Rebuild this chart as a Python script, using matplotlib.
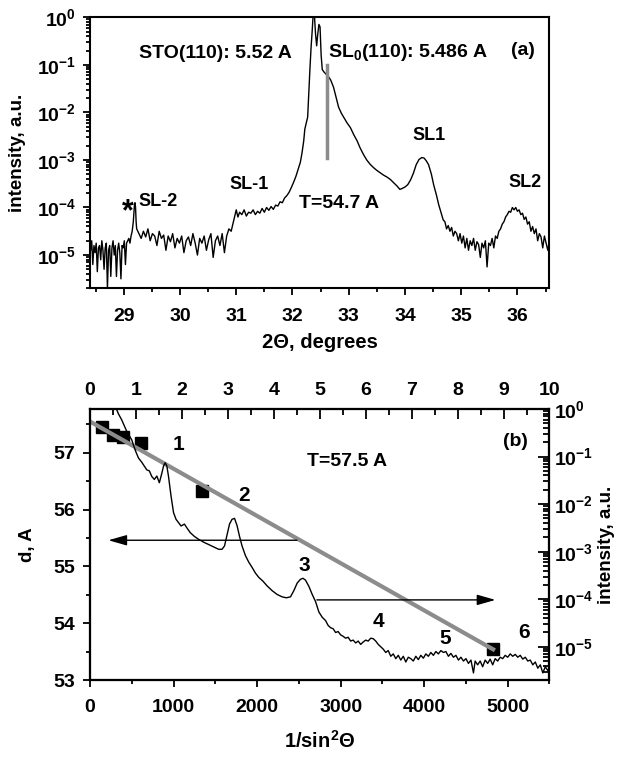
import numpy as np
import matplotlib
matplotlib.use("Agg")
import matplotlib.pyplot as plt
from matplotlib.ticker import MultipleLocator, LogLocator, NullFormatter

plt.rcParams['font.family'] = ['Liberation Sans', 'DejaVu Sans']
plt.rcParams['font.weight'] = 'bold'
plt.rcParams['axes.labelweight'] = 'bold'
plt.rcParams['mathtext.fontset'] = 'custom'
plt.rcParams['mathtext.rm'] = 'Liberation Sans:bold'
plt.rcParams['mathtext.it'] = 'Liberation Sans:bold'
plt.rcParams['mathtext.bf'] = 'Liberation Sans:bold'

# ---- panel (a): XRD scan, 2theta (deg) vs log10(intensity) ----
two_theta = [28.41, 28.43, 28.45, 28.47, 28.49, 28.51, 28.53, 28.55, 28.57, 28.59,
             28.61, 28.63, 28.65, 28.67, 28.69, 28.71, 28.73, 28.75, 28.77, 28.79,
             28.81, 28.83, 28.85, 28.87, 28.89, 28.91, 28.93, 28.95, 28.97, 28.99,
             29.01, 29.03, 29.05, 29.07,
             29.09, 29.11, 29.13, 29.15, 29.17, 29.19, 29.20, 29.21, 29.22, 29.23, 29.25,
             29.27, 29.31, 29.35, 29.39, 29.43, 29.47, 29.51, 29.55, 29.59, 29.63,
             29.67, 29.71, 29.75, 29.79, 29.83, 29.87, 29.91, 29.95, 29.99, 30.03,
             30.07, 30.11, 30.15, 30.19, 30.23, 30.27, 30.31, 30.35, 30.39, 30.43,
             30.47, 30.51, 30.55, 30.59, 30.63, 30.67, 30.71, 30.75, 30.79, 30.83,
             30.87, 30.91, 30.95,
             31.00, 31.03, 31.06, 31.10, 31.14, 31.18, 31.22, 31.26, 31.30, 31.34,
             31.38, 31.42, 31.46, 31.50, 31.54, 31.58, 31.62, 31.66, 31.70, 31.74,
             31.78, 31.82, 31.86, 31.90, 31.94, 31.98, 32.02, 32.06, 32.10, 32.14,
             32.17, 32.20, 32.22, 32.24, 32.27, 32.29, 32.31, 32.33, 32.35, 32.37,
             32.39, 32.41, 32.43, 32.45, 32.47, 32.49, 32.51, 32.53, 32.56, 32.60,
             32.64, 32.68, 32.73, 32.78, 32.82, 32.87, 32.92, 32.97, 33.03, 33.09,
             33.15, 33.20, 33.26, 33.32, 33.38, 33.44, 33.50, 33.56, 33.62, 33.68,
             33.74, 33.80, 33.86, 33.91, 33.95, 34.00, 34.05, 34.10, 34.15, 34.20,
             34.25, 34.30, 34.34, 34.38, 34.42, 34.47, 34.51, 34.56, 34.60, 34.64,
             34.68,
             34.71, 34.74, 34.77, 34.80, 34.83, 34.86, 34.89, 34.92, 34.95, 34.98,
             35.01, 35.04, 35.07, 35.10, 35.13, 35.16, 35.19, 35.22, 35.25, 35.28,
             35.31, 35.34, 35.37, 35.40, 35.43, 35.46, 35.49, 35.52, 35.55, 35.58,
             35.61, 35.64, 35.67, 35.70, 35.73, 35.76, 35.79, 35.82, 35.85, 35.88,
             35.91, 35.94, 35.97, 36.00, 36.03, 36.06, 36.09, 36.12, 36.15, 36.18,
             36.21, 36.24, 36.27, 36.30, 36.33, 36.36, 36.39, 36.42, 36.45, 36.48,
             36.51, 36.54, 36.57]
log_int_a = [-4.90, -4.70, -5.20, -4.80, -4.95, -4.75, -5.35, -4.85, -4.80, -5.10,
             -4.70, -4.90, -5.30, -4.85, -4.75, -5.70, -4.90, -4.80, -5.45, -4.85,
             -4.70, -5.00, -4.80, -5.45, -4.90, -4.75, -4.95, -5.50, -4.80, -4.85,
             -4.70, -5.20, -4.75, -4.70,
             -4.65, -4.75, -4.60, -4.50, -4.30, -3.95, -3.90, -4.00, -4.30, -4.45, -4.50,
             -4.55, -4.65, -4.50, -4.62, -4.45, -4.70, -4.55, -4.60, -4.80, -4.50,
             -4.65, -4.58, -4.90, -4.60, -4.72, -4.55, -4.85, -4.65, -4.75, -4.60,
             -4.95, -4.70, -4.62, -4.80, -4.55, -4.75, -5.00, -4.65, -4.75, -4.60,
             -4.90, -4.68, -4.55, -5.05, -4.70, -4.60, -4.80, -4.55, -4.95, -4.60,
             -4.45, -4.50, -4.30,
             -4.05, -4.20, -4.10, -4.15, -4.05, -4.18, -4.10, -4.12, -4.05, -4.15,
             -4.08, -4.12, -4.02, -4.10, -4.00, -4.06, -3.98, -4.04, -3.95, -3.97,
             -3.88, -3.90, -3.80, -3.75, -3.68, -3.58, -3.47, -3.35, -3.20, -3.05,
             -2.85, -2.60, -2.35, -2.25, -2.10, -1.60, -1.10, -0.65, -0.30, 0.10,
             0.05, -0.35, -0.60, -0.35, -0.15, -0.20, -0.80, -1.10, -1.15, -1.20,
             -1.25, -1.32, -1.47, -1.70, -1.89, -2.02, -2.12, -2.22, -2.32, -2.47,
             -2.60, -2.74, -2.88, -3.00, -3.09, -3.16, -3.22, -3.27, -3.32, -3.36,
             -3.41, -3.48, -3.55, -3.62, -3.60, -3.57, -3.52, -3.42, -3.28, -3.10,
             -2.99, -2.95, -2.96, -3.02, -3.10, -3.30, -3.52, -3.74, -3.94, -4.10,
             -4.26,
             -4.30, -4.45, -4.38, -4.50, -4.42, -4.60, -4.50, -4.55, -4.70, -4.55,
             -4.75, -4.60, -4.85, -4.65, -4.90, -4.70, -4.80, -4.65, -4.90, -4.72,
             -4.78, -5.05, -4.75, -4.85, -4.70, -5.25, -4.75, -4.80, -4.65, -4.85,
             -4.60, -4.65, -4.50, -4.45, -4.35, -4.30, -4.20, -4.15, -4.08, -4.10,
             -4.00, -4.05, -4.00, -4.08, -4.05, -4.15, -4.12, -4.25, -4.20, -4.35,
             -4.30, -4.50, -4.40, -4.55, -4.45, -4.70, -4.55, -4.62, -4.85, -4.60,
             -4.75, -4.90, -4.70]
sl0_pos = 32.61
sl0_marker = [10 ** -1.01, 10 ** -2.96]

# ---- panel (b): d vs 1/sin^2(theta), and intensity vs 1/sin^2(theta) ----
inv_sin2_pts = [140, 270, 400, 610, 1335, 4825]
d_pts = [57.45, 57.32, 57.27, 57.17, 56.33, 53.54]
fit_x = [0, 4825]
fit_d = [57.55, 53.54]

inv_sin2 = [280, 340, 380, 440, 500, 540, 580, 620, 650, 680,
            710, 740, 770, 800, 830, 860, 880, 900, 920, 940,
            970, 1000, 1030, 1060, 1090, 1130, 1160, 1200, 1250, 1300,
            1360, 1420, 1480, 1540, 1580, 1610, 1640, 1670, 1700, 1730,
            1760, 1790, 1820, 1860, 1900, 1940, 1980, 2020, 2070, 2120,
            2180, 2240, 2300, 2350, 2400, 2440, 2480, 2520, 2550, 2580,
            2620, 2660, 2700, 2740, 2780, 2820, 2850, 2880, 2910, 2940,
            2970, 3000, 3030, 3060, 3090, 3120, 3150, 3180, 3210, 3240,
            3270, 3300, 3330, 3360, 3390, 3420, 3450, 3480, 3510, 3540,
            3570, 3600, 3630, 3660, 3690, 3720, 3750, 3780, 3810, 3840,
            3870, 3900, 3930, 3960, 3990, 4020, 4050, 4080, 4110, 4140,
            4170, 4200, 4230, 4260, 4290, 4320, 4350, 4380, 4410, 4440,
            4470, 4500, 4530, 4560, 4590, 4610, 4640, 4670, 4700, 4730,
            4760, 4790, 4820, 4850, 4880, 4910, 4940, 4970, 5000, 5030,
            5060, 5090, 5120, 5150, 5180, 5210, 5240, 5270, 5300, 5330,
            5360, 5390, 5420, 5450, 5480, 5500]
log_int_b = [0.15, -0.10, -0.23, -0.47, -0.65, -0.86, -1.03, -1.12, -1.20, -1.28,
             -1.30, -1.42, -1.48, -1.41, -1.55, -1.35, -1.20, -1.13, -1.20, -1.42,
             -1.83, -2.18, -2.32, -2.39, -2.46, -2.42, -2.50, -2.60, -2.68, -2.74,
             -2.80, -2.85, -2.90, -2.95, -2.95, -2.88, -2.65, -2.42, -2.32, -2.30,
             -2.45, -2.68, -2.88, -3.08, -3.22, -3.33, -3.45, -3.54, -3.62, -3.72,
             -3.82, -3.90, -3.95, -3.97, -3.95, -3.82, -3.66, -3.58, -3.56, -3.60,
             -3.73, -3.90, -4.05, -4.27, -4.38, -4.45, -4.55, -4.60, -4.62, -4.70,
             -4.68, -4.75, -4.78, -4.82, -4.80, -4.88, -4.86, -4.92, -4.88, -4.95,
             -4.90, -4.86, -4.88, -4.82, -4.83, -4.88, -4.95, -5.00, -5.05, -5.12,
             -5.08, -5.20, -5.15, -5.25, -5.18, -5.28, -5.20, -5.32, -5.22, -5.25,
             -5.30, -5.20, -5.27, -5.18, -5.24, -5.15, -5.20, -5.12, -5.18, -5.10,
             -5.15, -5.08, -5.12, -5.10, -5.20, -5.14, -5.22, -5.18, -5.28, -5.22,
             -5.30, -5.25, -5.35, -5.28, -5.55, -5.30, -5.38, -5.30, -5.42, -5.28,
             -5.35, -5.26, -5.38, -5.25, -5.30, -5.22, -5.25, -5.18, -5.22, -5.15,
             -5.20, -5.16, -5.22, -5.18, -5.26, -5.22, -5.30, -5.28, -5.38, -5.32,
             -5.45, -5.38, -5.55, -5.42, -5.50, -5.45]
order_labels = ['1', '2', '3', '4', '5', '6']
order_x = [1060, 1840, 2570, 3455, 4255, 5195]
order_d = [57.14, 56.24, 55.01, 54.03, 53.73, 53.83]
arrow_left = [(2477, 55.46), (220, 55.46)]
arrow_right = [(2716, 54.41), (4853, 54.41)]

FS = 14
fig = plt.figure(figsize=(6.19, 7.58), dpi=100)

# ---------------- panel (a) ----------------
ax = fig.add_axes([0.1454, 0.6197, 0.7423, 0.3575])
ax.plot(two_theta, 10.0 ** np.array(log_int_a), color='k', lw=1.0)
ax.plot([sl0_pos, sl0_pos], sl0_marker, color='#8c8c8c', lw=2.5)
ax.set_yscale('log')
ax.set_xlim(28.4, 36.57)
ax.set_ylim(2e-6, 1)
ax.xaxis.set_major_locator(MultipleLocator(1))
ax.xaxis.set_minor_locator(MultipleLocator(0.5))
ax.yaxis.set_major_locator(LogLocator(base=10, numticks=10))
ax.yaxis.set_minor_locator(LogLocator(base=10, subs=np.arange(2, 10), numticks=10))
ax.yaxis.set_minor_formatter(NullFormatter())
ax.tick_params(which='both', direction='out', top=False, right=False,
               labelsize=FS, width=1.3)
ax.tick_params(which='major', length=5)
ax.tick_params(which='minor', length=3)
ax.tick_params(axis='x', pad=9)
ax.tick_params(axis='y', pad=5)
for s in ax.spines.values():
    s.set_linewidth(1.5)
ax.set_xlabel('2Θ, degrees', fontsize=14.5, labelpad=6)
ax.set_ylabel('intensity, a.u.', fontsize=13.5, labelpad=8)

ax.text(29.27, 10 ** -0.76, 'STO(110): 5.52 A', fontsize=FS, ha='left', va='center')
ax.text(32.64, 10 ** -0.83, r'SL$_\mathregular{0}$(110): 5.486 A', fontsize=FS,
        ha='left', va='baseline')
ax.text(36.1, 10 ** -0.69, '(a)', fontsize=FS, ha='center', va='center')
ax.text(34.42, 10 ** -2.49, 'SL1', fontsize=13, ha='center', va='center')
ax.text(36.13, 10 ** -3.48, 'SL2', fontsize=13, ha='center', va='center')
ax.text(32.11, 10 ** -3.91, 'T=54.7 A', fontsize=FS, ha='left', va='center')
ax.text(31.22, 10 ** -3.52, 'SL-1', fontsize=13, ha='center', va='center')
ax.text(29.27, 10 ** -3.87, 'SL-2', fontsize=13, ha='left', va='center')
ax.text(29.08, 10 ** -4.1, '*', fontsize=22, ha='center', va='center')

# ---------------- panel (b) ----------------
bx = fig.add_axes([0.1454, 0.1029, 0.7423, 0.3575])
bx.plot(inv_sin2_pts, d_pts, 's', color='k', markersize=9, zorder=2)
bx.plot(fit_x, fit_d, color='#8c8c8c', lw=3, zorder=3)
bx.set_xlim(0, 5500)
bx.set_ylim(53, 57.77)
bx.xaxis.set_major_locator(MultipleLocator(1000))
bx.xaxis.set_minor_locator(MultipleLocator(500))
bx.yaxis.set_major_locator(MultipleLocator(1))
bx.yaxis.set_minor_locator(MultipleLocator(0.5))
bx.tick_params(which='both', direction='out', top=False, right=False,
               labelsize=FS, width=1.3)
bx.tick_params(which='major', length=5)
bx.tick_params(which='minor', length=3)
bx.tick_params(axis='x', pad=9)
bx.tick_params(axis='y', pad=6)
for s in bx.spines.values():
    s.set_linewidth(1.5)
bx.set_xlabel(r'1/sin$^\mathregular{2}$Θ', fontsize=14.5, labelpad=10)
bx.set_ylabel('d, A', fontsize=13.5, labelpad=12)

for lab, xx, dd in zip(order_labels, order_x, order_d):
    bx.text(xx, dd, lab, fontsize=15, ha='center', va='center')
bx.text(2597, 56.84, 'T=57.5 A', fontsize=FS, ha='left', va='center')
bx.text(5093, 57.20, '(b)', fontsize=FS, ha='center', va='center')

arrow_style = dict(arrowstyle='-|>,head_length=0.7,head_width=0.2', color='k',
                   lw=1.0, mutation_scale=16, shrinkA=0, shrinkB=0)
bx.annotate('', xy=arrow_left[1], xytext=arrow_left[0], arrowprops=arrow_style)
bx.annotate('', xy=arrow_right[1], xytext=arrow_right[0], arrowprops=arrow_style)

# right axis: intensity (log)
br = bx.twinx()
br.plot(inv_sin2, 10.0 ** np.array(log_int_b), color='k', lw=1.0)
br.set_yscale('log')
br.set_ylim(2e-6, 1)
br.yaxis.set_major_locator(LogLocator(base=10, numticks=10))
br.yaxis.set_minor_locator(LogLocator(base=10, subs=np.arange(2, 10), numticks=10))
br.yaxis.set_minor_formatter(NullFormatter())
br.tick_params(which='both', direction='in', labelsize=FS, width=1.3)
br.tick_params(which='major', length=8)
br.tick_params(which='minor', length=4)
br.set_ylabel('intensity, a.u.', fontsize=13.5, labelpad=3)

# top axis: 0..10
bt = bx.twiny()
bt.set_xlim(0, 10)
bt.xaxis.set_major_locator(MultipleLocator(1))
bt.xaxis.set_minor_locator(MultipleLocator(0.5))
bt.tick_params(which='both', direction='in', labelsize=FS, width=1.3, pad=7)
bt.tick_params(which='major', length=7)
bt.tick_params(which='minor', length=4)
for a in (br, bt):
    for s in a.spines.values():
        s.set_linewidth(1.5)

fig.savefig('out.png', dpi=100)
